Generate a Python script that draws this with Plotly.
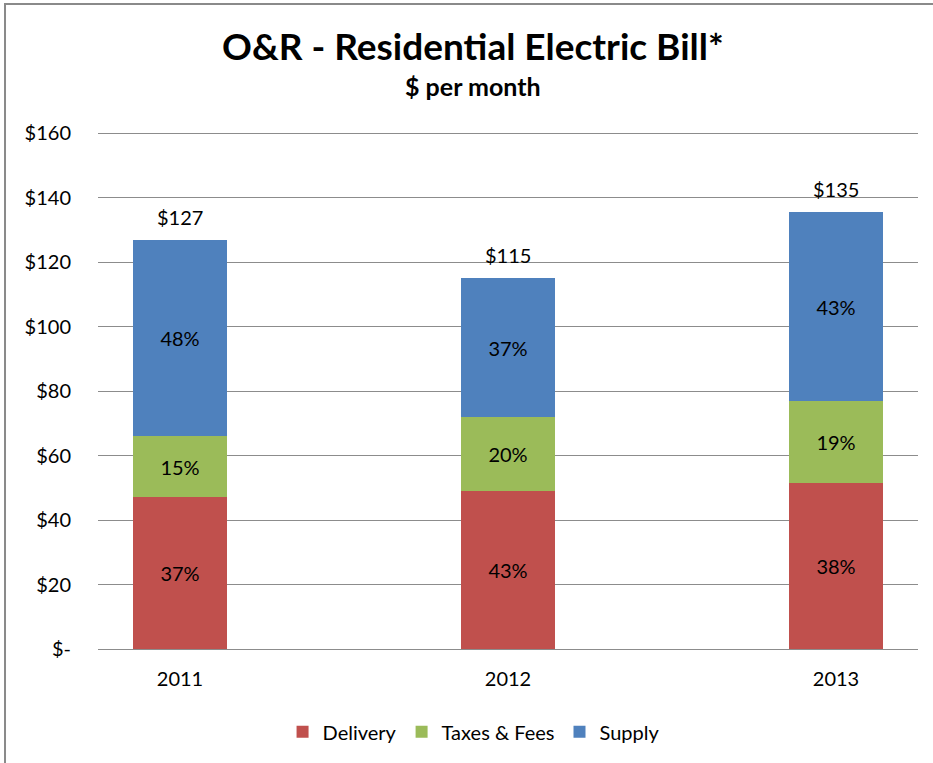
import plotly.graph_objects as go

years = ["2011", "2012", "2013"]
delivery = [47, 49, 51.5]
taxes = [19, 23, 25.5]
supply = [61, 43, 58.5]
delivery_pct = ["37%", "43%", "38%"]
taxes_pct = ["15%", "20%", "19%"]
supply_pct = ["48%", "37%", "43%"]
totals_text = ["$127", "$115", "$135"]
ytick_vals = [0, 20, 40, 60, 80, 100, 120, 140, 160]
ytick_text = ["$-", "$20", "$40", "$60", "$80", "$100", "$120", "$140", "$160"]

FONT = "Lato"
FS = 20
W = 0.286

fig = go.Figure()
for name, vals, pct, col in [
    ("Delivery", delivery, delivery_pct, "#C0504D"),
    ("Taxes & Fees", taxes, taxes_pct, "#9BBB59"),
    ("Supply", supply, supply_pct, "#4F81BD"),
]:
    fig.add_trace(go.Bar(
        x=years, y=vals, name=name, marker=dict(color=col, line=dict(width=0)),
        width=W, text=pct, textposition="inside", insidetextanchor="middle",
        textangle=0, textfont=dict(family=FONT, size=FS, color="black"),
        hoverinfo="skip",
    ))

totals = [d + t + s for d, t, s in zip(delivery, taxes, supply)]
annotations = [
    dict(x=i, y=tot, xref="x", yref="y", text=txt, showarrow=False,
         yshift=23, font=dict(family=FONT, size=FS, color="black"))
    for i, (tot, txt) in enumerate(zip(totals, totals_text))
]
annotations += [
    dict(text="<b>O&R - Residential Electric Bill*</b>", xref="paper", yref="paper",
         x=0.457, y=1.162, xanchor="center", yanchor="middle", showarrow=False,
         font=dict(family=FONT, size=37, color="black")),
    dict(text="<b>$ per month</b>", xref="paper", yref="paper",
         x=0.457, y=1.085, xanchor="center", yanchor="middle", showarrow=False,
         font=dict(family=FONT, size=25, color="black")),
]

fig.update_layout(
    width=933, height=763,
    barmode="stack",
    paper_bgcolor="white", plot_bgcolor="white",
    margin=dict(l=98, r=15, t=130, b=111),
    font=dict(family=FONT, size=FS, color="black"),
    xaxis=dict(
        type="category", range=[-0.25, 2.25], showgrid=False, showline=False,
        ticks="", tickfont=dict(family=FONT, size=FS), ticklabelstandoff=16,
    ),
    yaxis=dict(
        range=[0, 161], tickvals=ytick_vals, ticktext=ytick_text,
        showgrid=True, gridcolor="#8c8c8c", gridwidth=1,
        zeroline=True, zerolinecolor="#8c8c8c", zerolinewidth=1,
        ticks="", tickfont=dict(family=FONT, size=FS), ticklabelstandoff=26,
    ),
    legend=dict(
        orientation="h", x=0.458, xanchor="center", y=-0.122, yanchor="top",
        font=dict(family=FONT, size=FS), traceorder="normal",
        itemwidth=30,
    ),
    annotations=annotations,
    shapes=[dict(
        type="rect", xref="paper", yref="paper",
        x0=-0.1134, x1=1.05, y0=-0.4, y1=1.243,
        line=dict(color="#8a8a8a", width=2), fillcolor="rgba(0,0,0,0)", layer="below",
    )],
    bargap=0,
)

fig.write_html("out.html", post_script="document.body.style.margin='0';",
               config={"displayModeBar": False})
